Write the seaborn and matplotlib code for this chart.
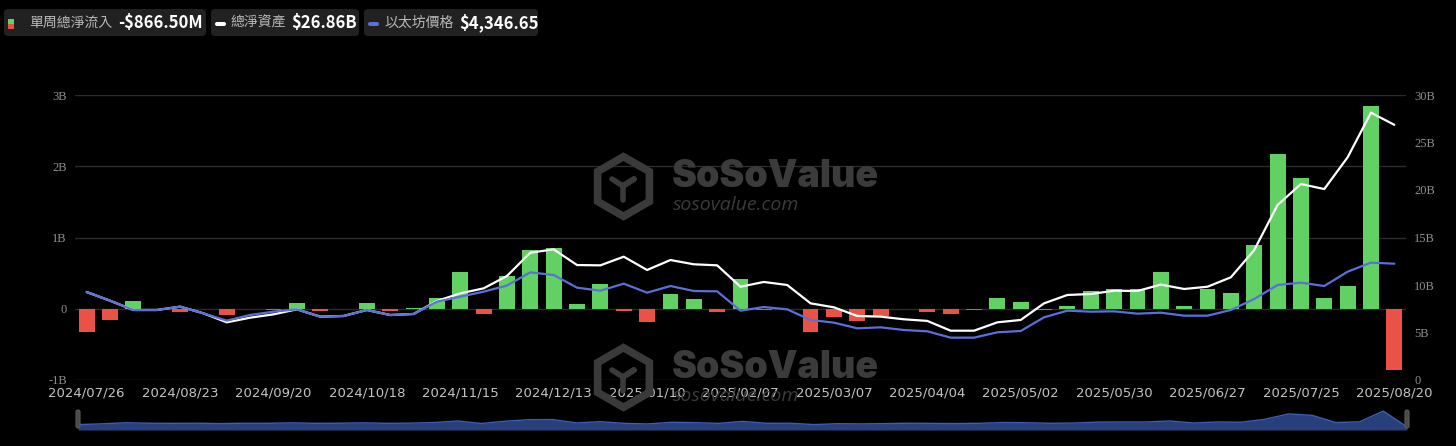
import numpy as np
import pandas as pd
import matplotlib.pyplot as plt
import seaborn as sns
from matplotlib.patches import FancyBboxPatch
from matplotlib.transforms import IdentityTransform

# weekly ETH spot ETF data
tick_labels = ['2024/07/26', '2024/08/23', '2024/09/20', '2024/10/18', '2024/11/15',
               '2024/12/13', '2025/01/10', '2025/02/07', '2025/03/07', '2025/04/04',
               '2025/05/02', '2025/05/30', '2025/06/27', '2025/07/25', '2025/08/20']

# weekly total net inflow, billions USD
flows = [-0.33, -0.16, 0.106, -0.01, -0.04, -0.01, -0.09, -0.01, -0.02, 0.083,
         -0.03, -0.005, 0.083, -0.03, 0.015, 0.15, 0.51, -0.07, 0.46, 0.82,
         0.85, 0.06, 0.35, -0.03, -0.18, 0.21, 0.13, -0.04, 0.42, -0.02,
         -0.005, -0.33, -0.12, -0.17, -0.10, -0.005, -0.05, -0.08, -0.02, 0.15,
         0.10, -0.02, 0.04, 0.25, 0.28, 0.28, 0.52, 0.04, 0.28, 0.22,
         0.90, 2.17, 1.84, 0.15, 0.32, 2.85, -0.8665]

# total net assets, billions USD
assets = [9.26, 8.35, 7.37, 7.37, 7.72, 7.02, 6.07, 6.56, 6.91, 7.44,
          6.67, 6.74, 7.37, 6.84, 6.95, 8.32, 9.12, 9.65, 10.95, 13.4,
          13.75, 12.1, 12.07, 12.98, 11.58, 12.63, 12.18, 12.07, 9.82, 10.32,
          10.0, 8.07, 7.65, 6.74, 6.67, 6.39, 6.22, 5.19, 5.19, 6.07,
          6.32, 8.07, 8.95, 9.05, 9.40, 9.37, 10.04, 9.58, 9.82, 10.81,
          13.68, 18.42, 20.63, 20.1, 23.44, 28.14, 26.86]

# ETH price, USD
price = [3288, 2965, 2616, 2616, 2740, 2490, 2218, 2430, 2553, 2641,
         2367, 2392, 2616, 2429, 2466, 2928, 3114, 3301, 3530, 4023,
         3923, 3450, 3338, 3600, 3263, 3512, 3326, 3313, 2591, 2727,
         2641, 2243, 2143, 1931, 1968, 1868, 1820, 1582, 1582, 1782,
         1831, 2342, 2591, 2553, 2566, 2479, 2516, 2404, 2404, 2616,
         3028, 3550, 3638, 3512, 4048, 4385, 4346.65]

GREEN = '#62d163'
RED = '#ea5246'
BLUE = '#5b6fd9'
W, H = 1456, 446

sns.set_theme(style='dark', rc={'axes.facecolor': 'black', 'figure.facecolor': 'black'})
plt.rcParams['font.family'] = ['Noto Sans CJK TC', 'DejaVu Sans']

df = pd.DataFrame({'week': np.arange(len(flows)), 'flow': flows,
                   'assets': assets, 'price': price})
df['sign'] = np.where(df['flow'] >= 0, 'in', 'out')

fig = plt.figure(figsize=(W / 100, H / 100), dpi=100, facecolor='black')
ax = fig.add_axes([75 / W, 1 - 380 / H, (1406 - 75) / W, (380 - 95) / H])
ax.set_facecolor('black')

sns.barplot(data=df, x='week', y='flow', hue='sign', palette={'in': GREEN, 'out': RED},
            dodge=False, width=0.68, saturation=1, errorbar=None, legend=False, ax=ax,
            edgecolor='none', linewidth=0)

ax.set_ylim(-1, 3)
ax.set_yticks([-1, 0, 1, 2, 3])
ax.set_yticklabels(['-1B', '0', '1B', '2B', '3B'])
ax.yaxis.grid(True, color='#2c2c2c', lw=1)
ax.xaxis.grid(False)
ax.set_axisbelow(True)
ax.set_xticks(range(0, len(flows), 4))
ax.set_xticklabels(tick_labels)
ax.tick_params(axis='x', length=0, colors='#c4c4c4', labelsize=9.5, pad=5)
ax.tick_params(axis='y', length=0, colors='#8e8e8e', labelsize=9, pad=6)
for t in ax.get_xticklabels():
    t.set_family('DejaVu Sans')
for t in ax.get_yticklabels():
    t.set_family('Liberation Serif')
ax.set_xlabel('')
ax.set_ylabel('')

# net assets on right axis
ax2 = ax.twinx()
sns.lineplot(data=df, x='week', y='assets', color='white', lw=1.6, ax=ax2)
ax2.set_ylim(0, 30)
ax2.set_yticks([0, 5, 10, 15, 20, 25, 30])
ax2.set_yticklabels(['0', '5B', '10B', '15B', '20B', '25B', '30B'])
ax2.tick_params(axis='y', length=0, colors='#8e8e8e', labelsize=9, pad=6)
for t in ax2.get_yticklabels():
    t.set_family('Liberation Serif')
ax2.grid(False)
ax2.set_ylabel('')

# price on hidden axis
ax3 = ax.twinx()
sns.lineplot(data=df, x='week', y='price', color=BLUE, lw=1.6, ax=ax3)
ax3.set_ylim(0, 10650)
ax3.axis('off')

for a in (ax, ax2, ax3):
    a.set_xlim(-0.5, len(flows) - 0.5)
    for s in a.spines.values():
        s.set_visible(False)

# watermarks
for dy in (0, 191):
    yc = 186 + dy
    fig.add_artist(plt.Line2D([623 / W], [1 - yc / H], marker='h', ms=43, mfc='none',
                              mec='#3a3a3a', mew=5.5, transform=fig.transFigure))
    fig.add_artist(plt.Line2D([612 / W, 623 / W, 634 / W, 623 / W, 623 / W],
                              [1 - (yc - 7) / H, 1 - yc / H, 1 - (yc - 7) / H, 1 - yc / H, 1 - (yc + 14) / H],
                              color='#3a3a3a', lw=4, transform=fig.transFigure))
    fig.text(672 / W, 1 - (187 + dy) / H, 'SoSoValue', fontsize=27, fontweight='black',
             family='Inter', color='#3b3b3b', va='baseline', ha='left')
    fig.text(673 / W, 1 - (210 + dy) / H, 'sosovalue.com', fontsize=14, style='italic',
             family='Open Sans', color='#3b3b3b', va='baseline', ha='left')

# navigator strip
nav = fig.add_axes([78 / W, 1 - 430 / H, (1407 - 78) / W, 23 / H])
nav.set_facecolor('#1a2031')
nav.fill_between(df['week'], -1.6, df['flow'], color='#27407c', lw=0)
sns.lineplot(data=df, x='week', y='flow', color='#3b5db4', lw=1, ax=nav)
nav.set_xlim(0, len(flows) - 1)
nav.set_ylim(-1.6, 3.8)
nav.axis('off')
for hx in (76, 1405):
    fig.patches.append(FancyBboxPatch((hx, H - 428), 4, 18, boxstyle='round,pad=0,rounding_size=2',
                                      fc='#4a4a4a', ec='#5a5a5a', lw=0.8, transform=IdentityTransform()))

# legend boxes
boxes = [(4, 206), (211, 359), (364, 538)]
for x0, x1 in boxes:
    fig.patches.append(FancyBboxPatch((x0, H - 36), x1 - x0, 27, boxstyle='round,pad=0,rounding_size=4',
                                      fc='#212121', ec='none', transform=IdentityTransform()))
fig.patches.append(FancyBboxPatch((8, H - 24), 6, 5, boxstyle='square,pad=0', fc=GREEN, ec='none',
                                  transform=IdentityTransform()))
fig.patches.append(FancyBboxPatch((8, H - 29), 6, 5, boxstyle='square,pad=0', fc=RED, ec='none',
                                  transform=IdentityTransform()))
fig.patches.append(FancyBboxPatch((215, H - 26), 11, 4, boxstyle='round,pad=0,rounding_size=2',
                                  fc='white', ec='none', transform=IdentityTransform()))
fig.patches.append(FancyBboxPatch((368, H - 26), 11, 4, boxstyle='round,pad=0,rounding_size=2',
                                  fc=BLUE, ec='none', transform=IdentityTransform()))

yc = 1 - 23 / H
items = [(29, '單周總淨流入', 118, '-$866.50M'),
         (230, '總淨資產', 291, '$26.86B'),
         (384, '以太坊價格', 459, '$4,346.65')]
for lx, label, vx, value in items:
    fig.text(lx / W, yc, label, fontsize=10, color='#b8b8b8', va='center', ha='left')
    fig.text(vx / W, yc, value, fontsize=12, fontweight='bold', color='white', va='center', ha='left')

fig.savefig('out.png', dpi=100, facecolor='black')
